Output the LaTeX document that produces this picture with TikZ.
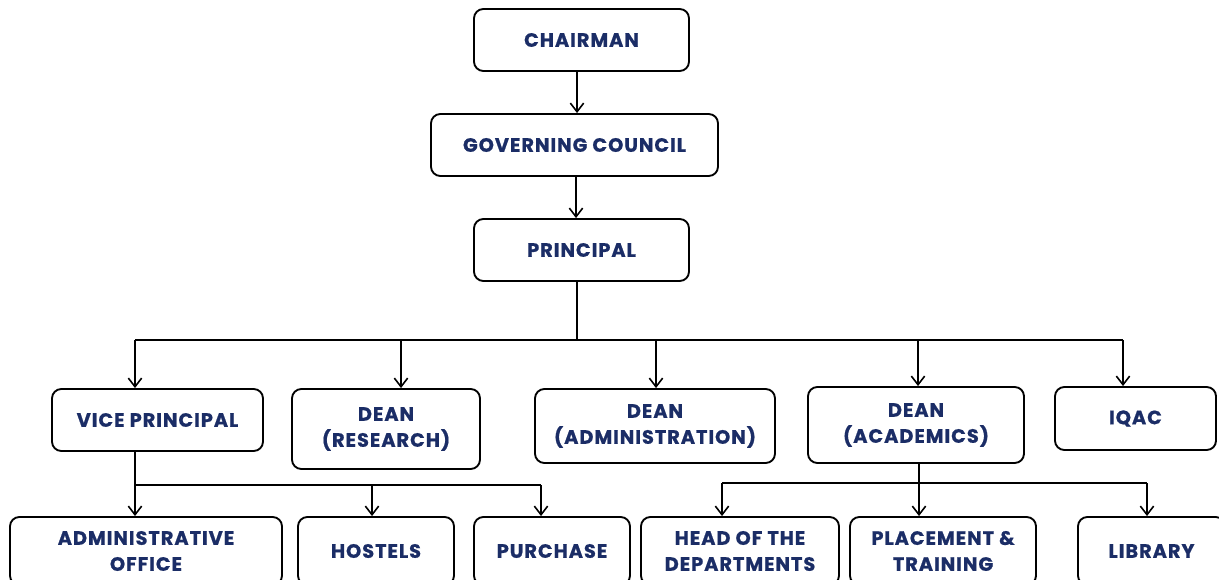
\documentclass[tikz,border=0pt]{standalone}
\usepackage{fontspec}
\setmainfont{Poppins}[LetterSpace=5,BoldFeatures={FakeBold=0.8}]
\usetikzlibrary{arrows.meta}
\definecolor{navy}{RGB}{27,45,102}

\begin{document}
\begin{tikzpicture}[x=0.75pt,y=-0.75pt,
    unit/.style={draw,rounded corners=7pt,line width=1.4pt,align=center,
      font=\fontsize{14.5}{19.5}\selectfont\bfseries,text=navy,inner sep=0pt},
    link/.style={line width=1.3pt},
    arr/.style={link,-{Straight Barb[length=6.5pt,width=10pt,line width=1.2pt]}}]

    \useasboundingbox (0,0) rectangle (1219,580);

    % top chain
    \node [unit,minimum width=161.25pt,minimum height=46.5pt] (chair) at (581.5,40) {CHAIRMAN};
    \node [unit,minimum width=215.25pt,minimum height=46.5pt] (council) at (574.5,145) {GOVERNING COUNCIL};
    \node [unit,minimum width=161.25pt,minimum height=46.5pt] (principal) at (581.5,250) {PRINCIPAL};

    \draw [arr] (chair.south -| 577,0) -- (council.north -| 577,0);
    \draw [arr] (council.south -| 576,0) -- (principal.north -| 576,0);

    % second row
    \node [unit,minimum width=158.25pt,minimum height=46.5pt] (vp) at (157.5,420) {VICE PRINCIPAL};
    \node [unit,minimum width=141pt,minimum height=60pt] (research) at (386,429) {DEAN\\(RESEARCH)};
    \node [unit,minimum width=180pt,minimum height=55.5pt] (admin) at (655,426) {DEAN\\(ADMINISTRATION)};
    \node [unit,minimum width=162pt,minimum height=57pt] (academics) at (916,425) {DEAN\\(ACADEMICS)};
    \node [unit,minimum width=120.75pt,minimum height=47.25pt] (iqac) at (1135.5,418.5) {IQAC};

    \coordinate (p0) at (577,340);
    \coordinate (p1) at (135,340);
    \coordinate (p2) at (401,340);
    \coordinate (p3) at (656,340);
    \coordinate (p4) at (918,340);
    \coordinate (p5) at (1123,340);

    \draw [link] (principal.south -| p0) -- (p0);
    \draw [link] (p1) -- (p5);
    \draw [arr] (p1) -- (p1 |- vp.north);
    \draw [arr] (p2) -- (p2 |- research.north);
    \draw [arr] (p3) -- (p3 |- admin.north);
    \draw [arr] (p4) -- (p4 |- academics.north);
    \draw [arr] (p5) -- (p5 |- iqac.north);

    % third row
    \node [unit,minimum width=204pt,minimum height=51pt] (office) at (146,551) {ADMINISTRATIVE\\OFFICE};
    \node [unit,minimum width=117pt,minimum height=51pt] (hostels) at (376,551) {HOSTELS};
    \node [unit,minimum width=117pt,minimum height=51pt] (purchase) at (552,551) {PURCHASE};
    \node [unit,minimum width=148.5pt,minimum height=51pt] (hod) at (740,551) {HEAD OF THE\\DEPARTMENTS};
    \node [unit,minimum width=139.5pt,minimum height=51pt] (placement) at (943,551) {PLACEMENT \&\\TRAINING};
    \node [unit,minimum width=110.25pt,minimum height=51pt] (library) at (1151.5,551) {LIBRARY};

    \coordinate (v1) at (135,485);
    \coordinate (v2) at (372,485);
    \coordinate (v3) at (541,485);
    \draw [link] (vp.south -| v1) -- (v1);
    \draw [link] (v1) -- (v3);
    \draw [arr] (v1) -- (v1 |- office.north);
    \draw [arr] (v2) -- (v2 |- hostels.north);
    \draw [arr] (v3) -- (v3 |- purchase.north);

    \coordinate (a1) at (722,483);
    \coordinate (a2) at (919,483);
    \coordinate (a3) at (1147,483);
    \draw [link] (academics.south -| a2) -- (a2);
    \draw [link] (a1) -- (a3);
    \draw [arr] (a1) -- (a1 |- hod.north);
    \draw [arr] (a2) -- (a2 |- placement.north);
    \draw [arr] (a3) -- (a3 |- library.north);

\end{tikzpicture}
\end{document}
